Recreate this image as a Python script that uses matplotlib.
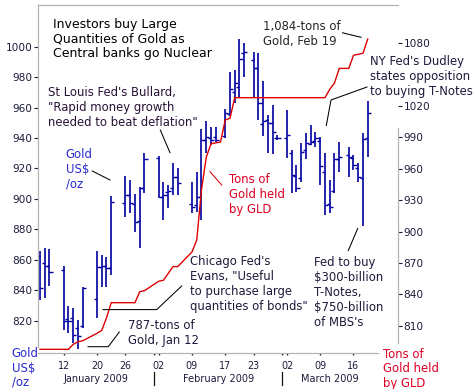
import matplotlib
matplotlib.use("Agg")
import matplotlib.pyplot as plt
from matplotlib.lines import Line2D
from datetime import date

# ---------------- data ----------------
holidays = ["2009-01-19", "2009-02-16"]

bar_dates = ["2009-01-07", "2009-01-08", "2009-01-09",
             "2009-01-12", "2009-01-13", "2009-01-14", "2009-01-15", "2009-01-16",
             "2009-01-20", "2009-01-21", "2009-01-22", "2009-01-23",
             "2009-01-26", "2009-01-27", "2009-01-28", "2009-01-29", "2009-01-30",
             "2009-02-02", "2009-02-03", "2009-02-04", "2009-02-05", "2009-02-06",
             "2009-02-09", "2009-02-10", "2009-02-11", "2009-02-12", "2009-02-13", "2009-02-14",
             "2009-02-17", "2009-02-18", "2009-02-19", "2009-02-20", "2009-02-21",
             "2009-02-23", "2009-02-24", "2009-02-25", "2009-02-26", "2009-02-27", "2009-02-28",
             "2009-03-02", "2009-03-03", "2009-03-04", "2009-03-05", "2009-03-06", "2009-03-07", "2009-03-08",
             "2009-03-09", "2009-03-10", "2009-03-11", "2009-03-12", "2009-03-13", "2009-03-15",
             "2009-03-16", "2009-03-17", "2009-03-18", "2009-03-19"]
bar_open = [862.5, 858, 856,
            853.3, 821, 821.7, 815.2, 816.5,
            834.2, 855.3, 855.9, 854.6,
            897.1, 902.6, 896.7, 885.5, 907,
            926.9, 901.1, 904.7, 907, 914.2,
            897, 896, 901, 938.7, 940, 940.5,
            941.5, 956, 970, 973.3, 996,
            991, 986, 949, 952, 950, 940,
            940, 930, 915, 914, 932, 936, 938,
            938, 918, 897, 905, 926, 929,
            927, 920, 914, 940]
bar_high = [865.8, 867.7, 867.1,
            856, 829.6, 828.3, 820.4, 841.9,
            865.8, 863.2, 862, 902.1,
            915.1, 912.4, 903, 908, 930.4,
            927.9, 911.3, 909.1, 923.4, 920.6,
            911.1, 917.9, 945.7, 951.2, 947.4, 947.4,
            959.4, 983.6, 984.7, 1004.9, 1002.6,
            996.7, 995.6, 977.5, 955.2, 961.7, 942,
            958.5, 932.1, 922.3, 936.5, 943.1, 948.5, 944.2,
            940.9, 930, 912.4, 930, 937.6, 934.3,
            928.8, 923.4, 943.3, 964.3]
bar_low = [833.6, 835, 842.8,
           814, 811.9, 805.3, 801.2, 814.9,
           822.1, 842, 842, 850.3,
           887.9, 890.9, 878.5, 867.6, 903.9,
           900.4, 886.1, 893.8, 902.6, 902.6,
           890.5, 891.6, 886.1, 930, 935.4, 937.6,
           939.8, 954.5, 962.8, 967.1, 980.3,
           966.4, 951.8, 941.5, 930, 929.5, 939,
           926.7, 903.7, 904.8, 911, 926, 935.5, 934.3,
           909.1, 889.4, 890.5, 903.7, 917.9, 914.6,
           918.9, 911.3, 882.4, 927.7]
bar_close = [841.3, 856, 852,
             819.8, 820, 810.5, 809.8, 841.3,
             855.3, 855.9, 854.6, 897.8,
             902.6, 897.1, 884.9, 907, 926,
             901.1, 902.6, 905.2, 914.2, 910.3,
             894.7, 901.4, 938.7, 940.5, 938.7, 938.7,
             956.4, 972, 976, 991.7, 996.7,
             986, 962.8, 951, 949.7, 944.2, 940,
             942, 915.7, 907, 931, 936.5, 937.6, 940,
             921.5, 896, 895, 926, 927.7, 927.7,
             922.3, 914.6, 939.3, 956.2]

gld_dates = ["2009-01-07", "2009-01-13", "2009-01-14", "2009-01-15", "2009-01-16",
             "2009-01-20", "2009-01-21", "2009-01-22", "2009-01-23", "2009-01-28",
             "2009-01-29", "2009-01-30", "2009-02-02", "2009-02-03", "2009-02-04",
             "2009-02-05", "2009-02-06", "2009-02-09", "2009-02-10", "2009-02-11",
             "2009-02-12", "2009-02-13", "2009-02-15", "2009-02-17", "2009-02-18",
             "2009-02-19", "2009-03-10", "2009-03-11", "2009-03-12", "2009-03-13",
             "2009-03-15", "2009-03-16", "2009-03-17", "2009-03-18", "2009-03-19"]
gld_tons = [787.4, 787.4, 792.2, 794.7, 795.6,
            802.7, 805.5, 817.5, 832, 832,
            842.5, 843.5, 852.5, 853.5, 860,
            866.5, 866.5, 880.5, 892, 940,
            971, 984, 985.6, 1006.7, 1008.3,
            1028, 1028, 1036, 1042, 1056,
            1056, 1068.5, 1069.5, 1070.5, 1084]

week_tick_dates = ["2009-01-12", "2009-01-20", "2009-01-26", "2009-02-02", "2009-02-09",
                   "2009-02-17", "2009-02-23", "2009-03-02", "2009-03-09", "2009-03-16"]
week_tick_labels = ["12", "20", "26", "02", "09", "17", "23", "02", "09", "16"]
month_start_dates = ["2009-02-01", "2009-03-01"]
month_labels = ["January 2009", "February 2009", "March 2009"]
price_ticks = [820, 840, 860, 880, 900, 920, 940, 960, 980, 1000]
tons_ticks = [810, 840, 870, 900, 930, 960, 990, 1020, 1080]

# ---------------- helpers ----------------
ORIGIN = date(2009, 1, 7)
_hol = [date.fromisoformat(h) for h in holidays]


def slot(s):
    d = date.fromisoformat(s)
    return (d - ORIGIN).days - sum(1 for h in _hol if h < d)


W, H = 476, 389


def fx(x):
    return x / W


def fy(y):
    return 1 - y / H


BLUE_BAR = "#0000a0"
RED = "#dd0000"
DARK = "#1c1c3c"
SPINE = "#b4b4b4"

fig = plt.figure(figsize=(W / 100, H / 100), dpi=100)
ax = fig.add_axes([fx(38), fy(353.3), (398 - 38) / W, (353.3 - 4.7) / H])
ax.set_xlim(-0.42, 75.37)
ax.set_ylim(798.6, 1027.6)

# OHLC bars
xs = [slot(d) for d in bar_dates]
tk = 0.65
ax.vlines(xs, bar_low, bar_high, color=BLUE_BAR, lw=1.2)
ax.hlines(bar_open, [x - tk for x in xs], xs, color=BLUE_BAR, lw=1.0)
ax.hlines(bar_close, xs, [x + tk for x in xs], color=BLUE_BAR, lw=1.0)

ax.set_yticks(price_ticks)
ax.set_yticklabels([str(v) for v in price_ticks])
ax.tick_params(axis="y", length=2.9, width=0.8, pad=0.8, labelsize=7.6,
               color=DARK, labelcolor=DARK)
ax.set_xticks([slot(d) for d in week_tick_dates])
ax.set_xticklabels(week_tick_labels)
ax.set_xticks([slot(d) for d in month_start_dates], minor=True)
ax.tick_params(axis="x", which="both", length=1.6, width=1.0, pad=3.6,
               labelsize=6.9, color=DARK, labelcolor=DARK)
for s in ["left", "top", "bottom"]:
    ax.spines[s].set_color(SPINE)
    ax.spines[s].set_linewidth(0.9)
ax.spines["right"].set_visible(False)
ax.spines["bottom"].set_bounds(-0.42, 71.2)
ax.spines["left"].set_bounds(802.9, 1027.6)

# GLD holdings on right axis
ax2 = ax.twinx()
ax2.set_ylim(783.6, 1116.9)
ax2.plot([slot(d) for d in gld_dates], gld_tons, color=RED, lw=1.0)
ax2.set_yticks(tons_ticks)
ax2.set_yticklabels([str(v) for v in tons_ticks])
ax2.tick_params(axis="y", length=2.6, width=0.8, pad=1.4, labelsize=7.6,
                color=DARK, labelcolor=DARK)
for s in ["left", "top", "bottom"]:
    ax2.spines[s].set_visible(False)
ax2.spines["right"].set_color(SPINE)
ax2.spines["right"].set_linewidth(0.9)
ax2.spines["right"].set_bounds(793.5, 999)

# month labels & separators
for cx, lab in zip([96, 218.3, 330], month_labels):
    fig.text(fx(cx), fy(378.3), lab, ha="center", va="center_baseline",
             fontsize=7.0, color=DARK)
for sx in [154.3, 282.3]:
    fig.add_artist(Line2D([fx(sx), fx(sx)], [fy(372), fy(384.5)],
                          color="#101010", lw=0.9))


# annotations
def note(x, top, s, color=DARK, size=8.35, ls=1.2):
    fig.text(fx(x), fy(top), s, ha="left", va="top", fontsize=size,
             color=color, linespacing=ls)


def pointer(pts, color="#000000"):
    fig.add_artist(Line2D([fx(p[0]) for p in pts], [fy(p[1]) for p in pts],
                          color=color, lw=0.75))


note(53, 18.1, "Investors buy Large\nQuantities of Gold as\nCentral banks go Nuclear",
     color="#000000", size=9.0, ls=1.12)
note(47.7, 86.1, "St Louis Fed's Bullard,\n\"Rapid money growth\nneeded to beat deflation\"",
     color="#2a1238")
pointer([(160.3, 130), (170, 152.7)])
note(65.7, 147.7, "Gold\nUS\\$\n/oz", color="#2a2ad0")
pointer([(92.3, 171), (110, 180)])
note(229, 173.1, "Tons of\nGold held\nby GLD", color="#dd0022")
pointer([(210, 171.7), (221.7, 185)], color=RED)
note(263.3, 20.4, "1,084-tons of\nGold, Feb 19", color="#262626")
pointer([(342.5, 32.8), (361, 37.3)])
note(370.3, 54.7, "NY Fed's Dudley\nstates opposition\nto buying T-Notes")
pointer([(367, 87), (331, 100), (326.3, 125.5)])
note(314.3, 256.4, "Fed to buy\n\\$300-billion\nT-Notes,\n\\$750-billion\nof MBS's")
pointer([(357.7, 228.5), (348.3, 250.5)])
note(190, 255.4, "Chicago Fed's\nEvans, \"Useful\nto purchase large\nquantities of bonds\"")
pointer([(181.7, 286), (156.7, 309.6), (103, 309.6)])
note(128.3, 319.4, "787-tons of\nGold, Jan 12")
pointer([(119.3, 332), (108.3, 346.7), (88, 346.7)])
note(11.7, 347.1, "Gold\nUS\\$\n/oz", color="#2a2ad0", ls=1.14)
note(383.3, 347.7, "Tons of\nGold held\nby GLD", color="#dd0022", ls=1.16)

fig.savefig("out.png", dpi=100)
